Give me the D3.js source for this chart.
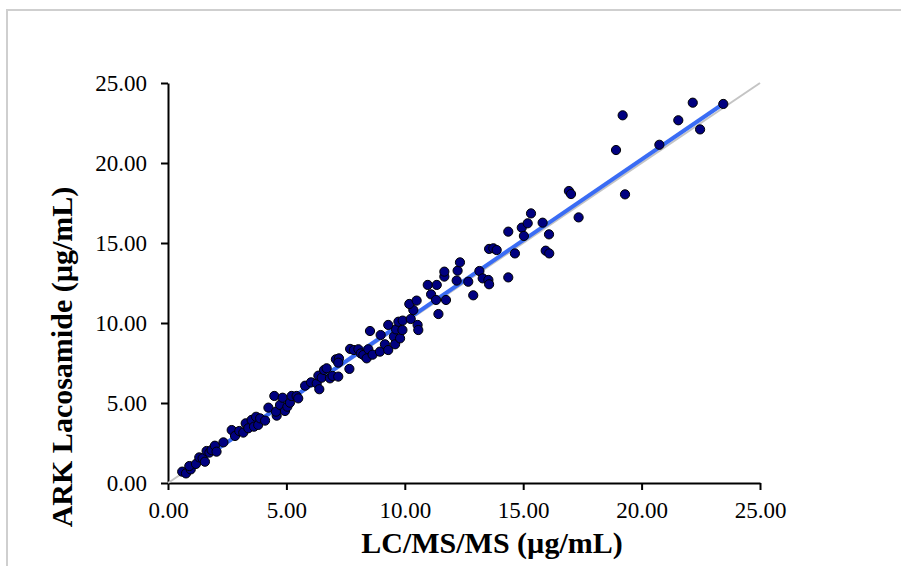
<!DOCTYPE html>
<html>
<head>
<meta charset="utf-8">
<script src="https://cdn.jsdelivr.net/npm/d3@7"></script>
<style>
  body { margin: 0; background: #fff; }
  text { font-family: "Liberation Serif", "Times New Roman", serif; fill: #000; }
</style>
</head>
<body>
<svg id="chart" width="901" height="566"></svg>
<script>
// LC/MS/MS result (x) and ARK Lacosamide result (y), µg/mL
const lcmsValues = [
  0.60, 0.76, 0.96, 0.90, 1.18, 1.32, 1.46, 1.56, 1.63, 1.75, 1.84, 1.98, 2.05, 2.34,
  2.69, 2.83, 3.01, 3.18, 3.28, 3.39, 3.53, 3.63, 3.72, 3.81, 3.89, 4.10, 4.24, 4.49,
  4.59, 4.56, 4.73, 4.84, 4.94, 5.04, 5.15, 5.22, 5.43, 5.50, 5.79, 6.04, 6.28, 6.39,
  6.35, 6.49, 6.59, 6.70, 6.84, 6.95, 7.19, 7.09, 7.22, 7.19, 7.66, 7.69, 7.85, 8.04,
  8.14, 8.25, 8.39, 8.46, 8.53, 8.64, 8.98,
  8.95, 9.16, 9.30, 9.54, 9.59, 9.80, 9.63, 9.30, 9.73, 9.90, 9.91, 10.25, 10.36, 10.19,
  10.50, 10.54, 10.57, 10.97, 11.11, 11.32, 11.35, 11.42, 11.67, 11.67, 11.74, 12.19,
  12.23, 12.33, 12.68, 12.89, 13.15, 13.29, 13.53, 13.56, 13.56, 13.74, 13.88, 14.37,
  14.37, 14.65, 14.94, 15.03, 15.19, 15.33, 15.82, 16.09, 15.95, 16.10, 17.34,
  16.93, 17.02, 19.30, 18.92, 19.20, 20.75, 21.55, 22.16, 22.47, 23.45
];
const arkValues = [
  0.71, 0.60, 0.85, 1.06, 1.19, 1.60, 1.54, 1.33, 2.00, 1.90, 2.06, 2.33, 1.96, 2.54,
  3.31, 2.94, 3.25, 3.15, 3.73, 3.42, 3.94, 3.52, 4.14, 3.63, 4.04, 3.90, 4.71, 5.44,
  4.21, 4.46, 4.88, 5.33, 4.50, 4.77, 5.02, 5.44, 5.44, 5.29, 6.08, 6.29, 6.23, 5.86,
  6.71, 6.58, 7.06, 7.17, 6.54, 6.69, 6.65, 7.73, 7.79, 7.52, 7.13, 8.38, 8.31, 8.36,
  8.10, 8.00, 7.79, 8.36, 9.50, 8.02, 9.25,
  8.21, 8.67, 8.31, 9.15, 8.67, 9.04, 9.60, 9.88, 10.08, 9.56, 10.15, 10.25, 10.81, 11.19,
  11.40, 9.88, 9.56, 12.38, 11.79, 11.44, 12.38, 10.56, 12.90, 13.21, 11.44, 12.65,
  13.27, 13.79, 12.58, 11.73, 13.25, 12.79, 12.69, 12.42, 14.63, 14.67, 14.56, 15.71,
  12.85, 14.35, 15.96, 15.44, 16.23, 16.85, 16.27, 15.54, 14.52, 14.35, 16.60,
  18.25, 18.06, 18.04, 20.81, 22.98, 21.14, 22.67, 23.77, 22.10, 23.69
];
const tickValues = [0, 5, 10, 15, 20, 25];
const fitSlope = 1.01;
const fitIntercept = 0.02;
const identityEnds = [0, 25];

const svg = d3.select("#chart");

// Outer chart border (only top and left edges fall inside the picture)
svg.append("rect")
  .attr("x", 7).attr("y", 10)
  .attr("width", 1000).attr("height", 700)
  .attr("fill", "none")
  .attr("stroke", "#cfcfcf")
  .attr("stroke-width", 2);

const x = d3.scaleLinear().domain([0, 25]).range([168, 760]);
const y = d3.scaleLinear().domain([0, 25]).range([483, 83]);
const fmt = d3.format(".2f");

// Axes
const xAxis = svg.append("g")
  .attr("transform", `translate(0,${y(0)})`)
  .call(d3.axisBottom(x).tickValues(tickValues).tickFormat(fmt)
    .tickSize(7).tickSizeOuter(0).tickPadding(12));
const yAxis = svg.append("g")
  .attr("transform", `translate(${x(0)},0)`)
  .call(d3.axisLeft(y).tickValues(tickValues).tickFormat(fmt)
    .tickSize(7).tickSizeOuter(0).tickPadding(14));

[xAxis, yAxis].forEach(a => {
  a.selectAll("path, line").attr("stroke", "#000").attr("stroke-width", 2);
  a.selectAll("text")
    .style("font-family", "'Liberation Serif', 'Times New Roman', serif")
    .style("font-size", "23px")
    .attr("fill", "#000");
});

// Line of identity
svg.append("line")
  .attr("x1", x(identityEnds[0])).attr("y1", y(identityEnds[0]))
  .attr("x2", x(identityEnds[1])).attr("y2", y(identityEnds[1]))
  .attr("stroke", "#c4c4c4")
  .attr("stroke-width", 2);

// Regression line across the data range
const xMin = d3.min(lcmsValues), xMax = d3.max(lcmsValues);
svg.append("line")
  .attr("x1", x(xMin)).attr("y1", y(fitSlope * xMin + fitIntercept))
  .attr("x2", x(xMax)).attr("y2", y(fitSlope * xMax + fitIntercept))
  .attr("stroke", "#3a6cf4")
  .attr("stroke-width", 4);

// Points
svg.append("g")
  .selectAll("circle")
  .data(lcmsValues.map((v, i) => [v, arkValues[i]]))
  .enter()
  .append("circle")
  .attr("cx", d => x(d[0]))
  .attr("cy", d => y(d[1]))
  .attr("r", 4.6)
  .attr("fill", "#000080")
  .attr("stroke", "#000")
  .attr("stroke-width", 1);

// Axis titles
svg.append("text")
  .attr("x", 492)
  .attr("y", 553)
  .attr("text-anchor", "middle")
  .style("font-size", "30px")
  .style("font-weight", "bold")
  .text("LC/MS/MS (µg/mL)");

svg.append("text")
  .attr("transform", "translate(72,357) rotate(-90)")
  .attr("text-anchor", "middle")
  .style("font-size", "30px")
  .style("font-weight", "bold")
  .text("ARK Lacosamide (µg/mL)");
</script>
</body>
</html>
